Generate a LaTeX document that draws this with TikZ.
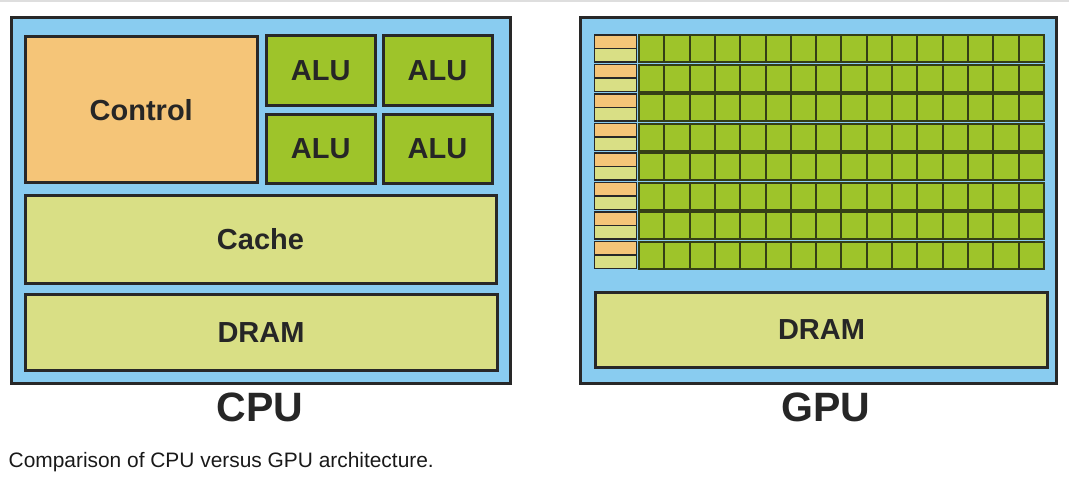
\documentclass[tikz,border=0pt]{standalone}
\usepackage{fontspec}
\setmainfont{Liberation Sans}
\usetikzlibrary{positioning}
\definecolor{CHblue}{RGB}{137,204,240}
\definecolor{CHorange}{RGB}{245,197,120}
\definecolor{CHgreen}{RGB}{158,196,42}
\definecolor{CHpale}{RGB}{217,223,133}
\definecolor{CHdark}{RGB}{40,40,40}
\definecolor{CHolive}{RGB}{52,62,22}
\definecolor{CHtext}{RGB}{38,38,38}

\begin{document}
\begin{tikzpicture}[x=1pt,y=-1pt,
      chip/.style={draw=CHdark,fill=CHblue,line width=3pt,inner sep=0pt,anchor=north west,
        minimum width=477pt,minimum height=365pt},
      block/.style={draw=CHdark,line width=3pt,inner sep=0pt,anchor=north west,
        font=\fontsize{29}{29}\selectfont\bfseries,text=CHtext},
      unit/.style={draw=CHdark,line width=1.5pt,inner sep=0pt,anchor=north west,
        minimum width=42pt,minimum height=13.5pt},
      cell/.style={draw=CHolive,line width=2pt,fill=CHgreen,inner sep=0pt,anchor=north west,
        minimum width=25.3pt,minimum height=27pt},
      title/.style={font=\fontsize{41}{41}\selectfont\bfseries,text=CHtext}
    ]
    \useasboundingbox (0,0) rectangle (1069,481);
    \draw[black!13,line width=1.5pt] (0,1) -- (1069,1);
    % CPU side
    \node[chip,minimum width=499pt] (cpu) at (9.5,16.5) {};
    \node[block,fill=CHorange,minimum width=232.5pt,minimum height=146pt] (control) at (23.5,35.5) {Control};
    \node[block,fill=CHgreen,minimum width=109.5pt,minimum height=69.5pt] (alu1) at (264.5,34.5) {ALU};
    \node[block,fill=CHgreen,minimum width=109pt,minimum height=69.5pt] (alu2) at (381.5,34.5) {ALU};
    \node[block,fill=CHgreen,minimum width=109.5pt,minimum height=69pt] (alu3) at (264.5,113) {ALU};
    \node[block,fill=CHgreen,minimum width=109pt,minimum height=69pt] (alu4) at (381.5,113) {ALU};
    \node[block,fill=CHpale,minimum width=471pt,minimum height=88pt] (cache) at (23.5,194) {Cache};
    \node[block,fill=CHpale,minimum width=472pt,minimum height=76pt] (cpudram) at (23.5,293) {DRAM};
    \node[title] (cpulabel) at (260,407) {CPU};
    % GPU side
    \node[chip,minimum width=476pt] (gpu) at (578.5,16.5) {};
    \foreach \r in {0,...,7} {
      \node[unit,fill=CHorange] (ctl-\r) at (593.5,34.5+29.5*\r) {};
      \node[unit,fill=CHpale] (cch-\r) at (593.5,48+29.5*\r) {};
      \foreach \c in {0,...,15}
        \node[cell] (core-\r-\c) at (638+25.3*\c,34.5+29.5*\r) {};
    }
    \node[block,fill=CHpale,minimum width=452pt,minimum height=75pt] (gpudram) at (594,291) {DRAM};
    \node[title] (gpulabel) at (826,407) {GPU};
    % caption
    \node[anchor=base west,inner sep=0pt,font=\fontsize{20.9}{20.9}\selectfont,text=black!90] (caption) at (8.5,467) {Comparison of CPU versus GPU architecture.};
  \end{tikzpicture}
\end{document}
